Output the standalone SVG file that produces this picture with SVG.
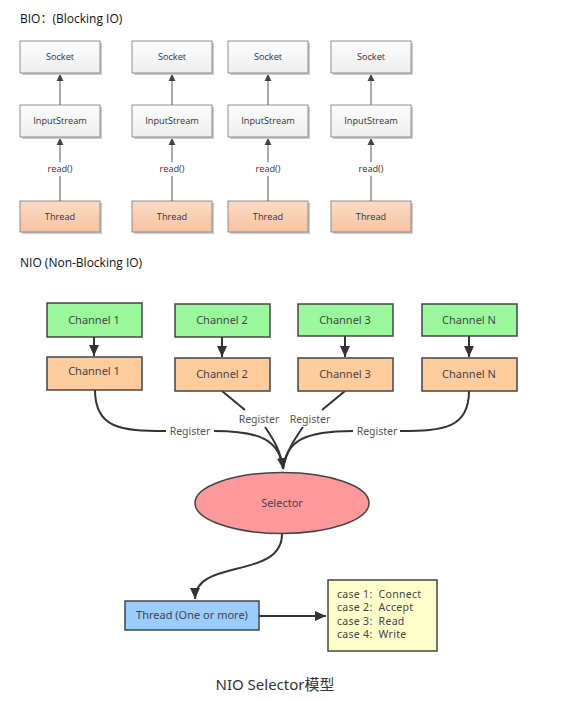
<svg xmlns="http://www.w3.org/2000/svg" width="573" height="702" viewBox="0 0 573 702">
<style>
.title{font-family:"Open Sans","Noto Sans","Noto Sans CJK SC",sans-serif;font-size:12px;fill:#111}
.bt{font-family:"Open Sans","Noto Sans",sans-serif;font-size:9.2px;fill:#333;text-anchor:middle}
.bio{fill:url(#gGray);stroke:#777;stroke-width:0.8}
.bthr{fill:url(#gOrange);stroke:#777;stroke-width:0.8}
.shadow{fill:#ccc}
.bline{stroke:#555;stroke-width:1;fill:none}
.nt{font-family:"Noto Sans","DejaVu Sans",sans-serif;font-size:11px;fill:#444;text-anchor:middle}
.green{fill:#99f99c;stroke:#444;stroke-width:1.5}
.orange{fill:#ffcc9e;stroke:#444;stroke-width:1.5}
.nline{stroke:#333;stroke-width:2;fill:none}
.reg{font-family:"Noto Sans","DejaVu Sans",sans-serif;font-size:10.5px;fill:#555;text-anchor:middle}
.case{font-family:"Noto Sans","DejaVu Sans",sans-serif;font-size:10.5px;letter-spacing:0.3px;fill:#444;white-space:pre}
</style>
<defs>
<linearGradient id="gGray" x1="0" y1="0" x2="0" y2="1">
<stop offset="0" stop-color="#fdfdfd"/><stop offset="1" stop-color="#eeeeee"/>
</linearGradient>
<linearGradient id="gOrange" x1="0" y1="0" x2="0" y2="1">
<stop offset="0" stop-color="#fbdcc6"/><stop offset="1" stop-color="#f6c3a0"/>
</linearGradient>
<marker id="bArr" markerWidth="8" markerHeight="8" refX="7" refY="4" orient="auto" markerUnits="userSpaceOnUse">
<path d="M0,0.5 L7,4 L0,7.5 Z" fill="#444"/>
</marker>
<marker id="nArr" markerWidth="12" markerHeight="12" refX="11" refY="6" orient="auto" markerUnits="userSpaceOnUse">
<path d="M0,1 L11,6 L0,11 Z" fill="#333"/>
</marker>
</defs>
<rect width="573" height="702" fill="#fff"/>
<text class="title" x="20" y="23">BIO：(Blocking IO)</text>
<text class="title" x="20" y="267">NIO (Non-Blocking IO)</text>

<g id="connectors">
<line class="bline" x1="60" y1="105" x2="60" y2="74" marker-end="url(#bArr)"/>
<line class="bline" x1="60" y1="201" x2="60" y2="176"/>
<line class="bline" x1="60" y1="162" x2="60" y2="138" marker-end="url(#bArr)"/>
<line class="bline" x1="172" y1="105" x2="172" y2="74" marker-end="url(#bArr)"/>
<line class="bline" x1="172" y1="201" x2="172" y2="176"/>
<line class="bline" x1="172" y1="162" x2="172" y2="138" marker-end="url(#bArr)"/>
<line class="bline" x1="268" y1="105" x2="268" y2="74" marker-end="url(#bArr)"/>
<line class="bline" x1="268" y1="201" x2="268" y2="176"/>
<line class="bline" x1="268" y1="162" x2="268" y2="138" marker-end="url(#bArr)"/>
<line class="bline" x1="371" y1="105" x2="371" y2="74" marker-end="url(#bArr)"/>
<line class="bline" x1="371" y1="201" x2="371" y2="176"/>
<line class="bline" x1="371" y1="162" x2="371" y2="138" marker-end="url(#bArr)"/>
<text class="bt" x="60" y="172">read()</text>
<text class="bt" x="172" y="172">read()</text>
<text class="bt" x="268" y="172">read()</text>
<text class="bt" x="371" y="172">read()</text>

<line class="nline" x1="94" y1="337" x2="94" y2="356" marker-end="url(#nArr)"/>
<line class="nline" x1="222" y1="337" x2="222" y2="357" marker-end="url(#nArr)"/>
<line class="nline" x1="345" y1="336" x2="345" y2="357" marker-end="url(#nArr)"/>
<line class="nline" x1="469" y1="336" x2="469" y2="357" marker-end="url(#nArr)"/>

<path class="nline" d="M95,390 C95,428 120,431 166,431"/>
<path class="nline" d="M214,431 C260,431 280,440 283,469" marker-end="url(#nArr)"/>
<path class="nline" d="M222,391 L245,410"/>
<path class="nline" d="M265,427 C274,440 281,452 283,469"/>
<path class="nline" d="M345,391 L322,410"/>
<path class="nline" d="M303,427 C294,440 286,452 283,469"/>
<path class="nline" d="M469,391 C469,428 444,431 400,431"/>
<path class="nline" d="M353,431 C306,431 286,440 283,469"/>
<text class="reg" x="190" y="435">Register</text>
<text class="reg" x="259" y="423">Register</text>
<text class="reg" x="310" y="423">Register</text>
<text class="reg" x="377" y="435">Register</text>

<path class="nline" d="M282,534 C282,580 195,558 195,599" marker-end="url(#nArr)"/>
<line class="nline" x1="259" y1="616" x2="326" y2="616" marker-end="url(#nArr)"/>
</g>

<g id="bio-socket-1"><rect class="shadow" x="22" y="43" width="80" height="32"/><rect class="bio" x="20" y="41" width="80" height="32"/><text class="bt" x="60" y="60">Socket</text></g>
<g id="bio-socket-2"><rect class="shadow" x="134" y="43" width="80" height="32"/><rect class="bio" x="132" y="41" width="80" height="32"/><text class="bt" x="172" y="60">Socket</text></g>
<g id="bio-socket-3"><rect class="shadow" x="230" y="43" width="80" height="32"/><rect class="bio" x="228" y="41" width="80" height="32"/><text class="bt" x="268" y="60">Socket</text></g>
<g id="bio-socket-4"><rect class="shadow" x="333" y="43" width="80" height="32"/><rect class="bio" x="331" y="41" width="80" height="32"/><text class="bt" x="371" y="60">Socket</text></g>

<g id="bio-input-1"><rect class="shadow" x="22" y="107" width="80" height="32"/><rect class="bio" x="20" y="105" width="80" height="32"/><text class="bt" x="60" y="124">InputStream</text></g>
<g id="bio-input-2"><rect class="shadow" x="134" y="107" width="80" height="32"/><rect class="bio" x="132" y="105" width="80" height="32"/><text class="bt" x="172" y="124">InputStream</text></g>
<g id="bio-input-3"><rect class="shadow" x="230" y="107" width="80" height="32"/><rect class="bio" x="228" y="105" width="80" height="32"/><text class="bt" x="268" y="124">InputStream</text></g>
<g id="bio-input-4"><rect class="shadow" x="333" y="107" width="80" height="32"/><rect class="bio" x="331" y="105" width="80" height="32"/><text class="bt" x="371" y="124">InputStream</text></g>

<g id="bio-thread-1"><rect class="shadow" x="22" y="203" width="80" height="31"/><rect class="bthr" x="20" y="201" width="80" height="31"/><text class="bt" x="60" y="220">Thread</text></g>
<g id="bio-thread-2"><rect class="shadow" x="134" y="203" width="80" height="31"/><rect class="bthr" x="132" y="201" width="80" height="31"/><text class="bt" x="172" y="220">Thread</text></g>
<g id="bio-thread-3"><rect class="shadow" x="230" y="203" width="80" height="31"/><rect class="bthr" x="228" y="201" width="80" height="31"/><text class="bt" x="268" y="220">Thread</text></g>
<g id="bio-thread-4"><rect class="shadow" x="333" y="203" width="80" height="31"/><rect class="bthr" x="331" y="201" width="80" height="31"/><text class="bt" x="371" y="220">Thread</text></g>

<g id="nio-ch1-src"><rect class="green" x="47" y="303" width="95" height="34"/><text class="nt" x="94" y="324">Channel 1</text></g>
<g id="nio-ch2-src"><rect class="green" x="175" y="304" width="95" height="33"/><text class="nt" x="222" y="324">Channel 2</text></g>
<g id="nio-ch3-src"><rect class="green" x="298" y="304" width="95" height="32"/><text class="nt" x="345" y="324">Channel 3</text></g>
<g id="nio-chN-src"><rect class="green" x="422" y="304" width="95" height="32"/><text class="nt" x="469" y="324">Channel N</text></g>

<g id="nio-ch1"><rect class="orange" x="47" y="357" width="95" height="33"/><text class="nt" x="94" y="375">Channel 1</text></g>
<g id="nio-ch2"><rect class="orange" x="175" y="358" width="95" height="33"/><text class="nt" x="222" y="378">Channel 2</text></g>
<g id="nio-ch3"><rect class="orange" x="298" y="358" width="95" height="33"/><text class="nt" x="345" y="378">Channel 3</text></g>
<g id="nio-chN"><rect class="orange" x="422" y="358" width="95" height="33"/><text class="nt" x="469" y="378">Channel N</text></g>

<g id="selector"><ellipse cx="282" cy="503" rx="87" ry="30.5" fill="#ff999c" stroke="#444" stroke-width="1.5"/><text class="nt" x="282" y="507">Selector</text></g>

<g id="thread"><rect x="125" y="601" width="134" height="29" fill="#99ccff" stroke="#444" stroke-width="1.5"/><text class="nt" x="192" y="619">Thread (One or more)</text></g>

<g id="cases"><rect x="328" y="580" width="109" height="71" fill="#ffffcc" stroke="#444" stroke-width="1.5"/>
<text class="case" x="337" y="597.5">case 1:  Connect</text>
<text class="case" x="337" y="611">case 2:  Accept</text>
<text class="case" x="337" y="624.5">case 3:  Read</text>
<text class="case" x="337" y="638">case 4:  Write</text>
</g>

<text x="275" y="690" font-family="'Noto Sans','Noto Sans CJK SC',sans-serif" font-size="15" fill="#333" text-anchor="middle">NIO Selector模型</text>
</svg>
